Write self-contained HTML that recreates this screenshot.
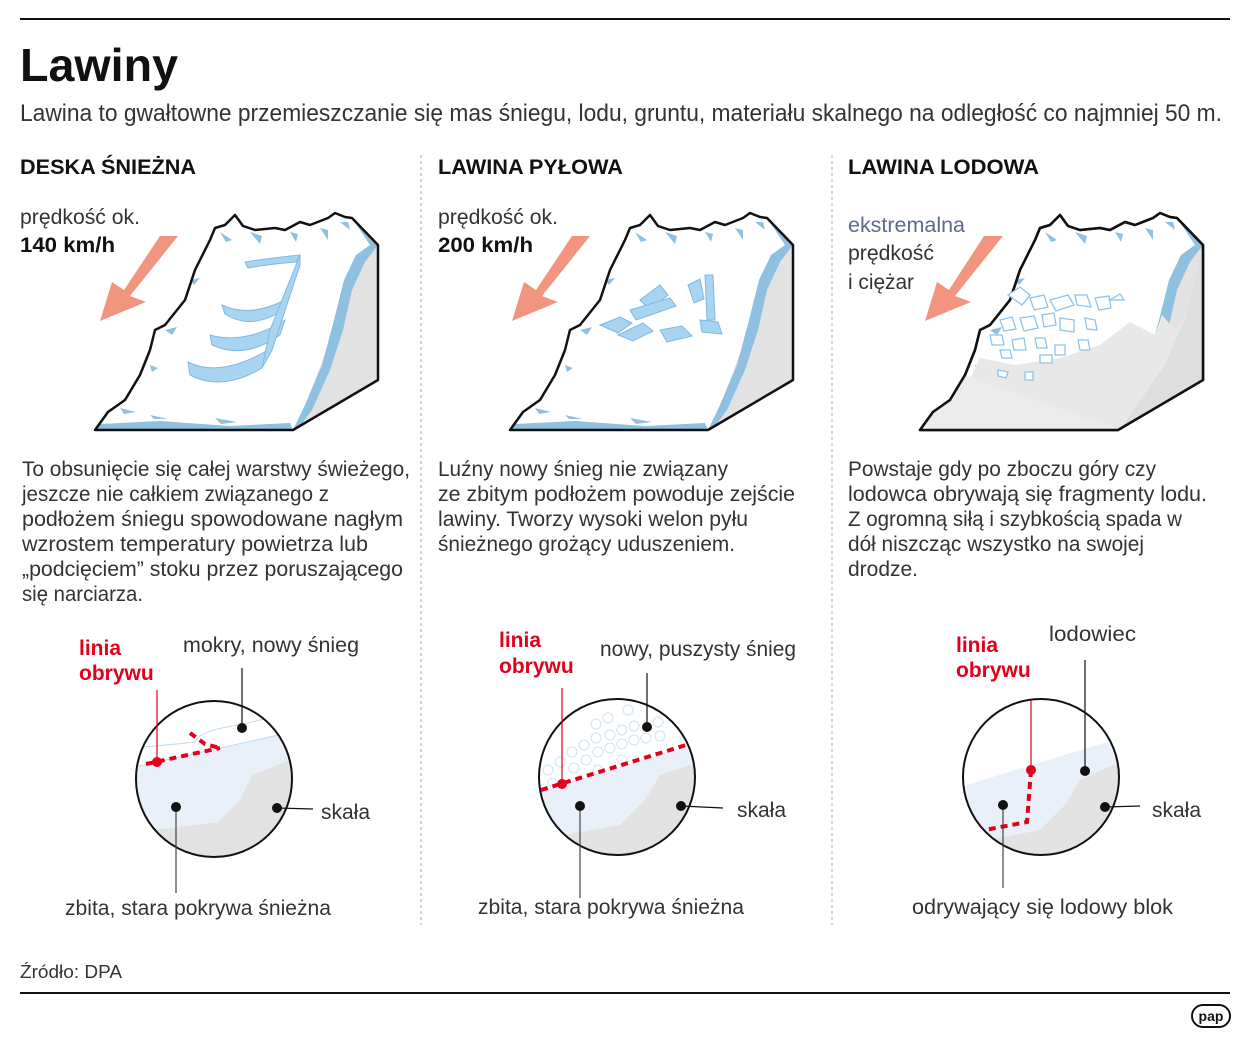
<!DOCTYPE html>
<html><head><meta charset="utf-8">
<style>
html,body{margin:0;padding:0;background:#fff;}
svg{display:block;}
text{font-family:"Liberation Sans",sans-serif;fill:#333;}
.b{font-weight:bold;fill:#111;}
.r{font-weight:bold;fill:#e2001a;}
</style></head><body>
<svg width="1250" height="1042" viewBox="0 0 1250 1042" xmlns="http://www.w3.org/2000/svg">
<defs>
<clipPath id="c1"><circle cx="214" cy="779" r="78"/></clipPath>
<clipPath id="c2"><circle cx="617" cy="777" r="78"/></clipPath>
<clipPath id="c3"><circle cx="1041" cy="777" r="78"/></clipPath>
<g id="mtn">
  <path d="M95,430 L108,412 L125,400 L140,375 L150,350 L155,330 L165,325 L185,300 L195,270 L205,250 L210,240 L215,228 L225,225 L235,215 L243,226 L255,230 L275,228 L285,230 L300,222 L310,225 L328,218 L335,213 L345,217 L352,218 L378,245 L378,380 L293,430 Z" fill="#fff"/>
  <path d="M378,245 L378,380 L293,430 L300,418 L315,380 L330,340 L340,300 L350,270 L365,250 Z" fill="#e2e2e2"/>
  <path d="M352,218 L378,245 L365,262 L352,290 L343,330 L330,370 L312,410 L300,426 L293,430 L305,405 L322,365 L334,320 L344,280 L356,255 L370,245 Z" fill="#8fc0e0"/>
  <path d="M95,430 L293,430 L290,423 L230,426 L160,421 L100,424 Z" fill="#8fc0e0"/>
  <path d="M220,232 l12,8 l-6,2 Z M250,232 l10,12 l2,-8 Z M290,232 l6,10 l2,-8Z M320,228 l8,12 l0,-10Z M340,222 l10,8 l-2,-8Z M165,330 l12,-3 l-5,8Z M190,280 l10,-2 l-6,7Z M150,365 l8,3 l-6,4Z M120,408 l16,4 l-12,2Z M150,415 l18,4 l-14,0Z M215,418 l22,4 l-16,2Z" fill="#8fc0e0"/>
  <path d="M95,430 L108,412 L125,400 L140,375 L150,350 L155,330 L165,325 L185,300 L195,270 L205,250 L210,240 L215,228 L225,225 L235,215 L243,226 L255,230 L275,228 L285,230 L300,222 L310,225 L328,218 L335,213 L345,217 L352,218 L378,245 L378,380 L293,430 Z" fill="none" stroke="#111" stroke-width="2.5" stroke-linejoin="round"/>
</g>
</defs>

<line x1="20" y1="19" x2="1230" y2="19" stroke="#111" stroke-width="2"/>
<text x="20" y="81" class="b" font-size="46" textLength="158" lengthAdjust="spacingAndGlyphs">Lawiny</text>
<text x="20" y="121" font-size="24" textLength="1202" lengthAdjust="spacingAndGlyphs">Lawina to gwałtowne przemieszczanie się mas śniegu, lodu, gruntu, materiału skalnego na odległość co najmniej 50 m.</text>

<text x="20" y="174" class="b" font-size="21" textLength="176" lengthAdjust="spacingAndGlyphs">DESKA ŚNIEŻNA</text>
<text x="438" y="174" class="b" font-size="21" textLength="185" lengthAdjust="spacingAndGlyphs">LAWINA PYŁOWA</text>
<text x="848" y="174" class="b" font-size="21" textLength="191" lengthAdjust="spacingAndGlyphs">LAWINA LODOWA</text>

<line x1="421" y1="155" x2="421" y2="925" stroke="#aaa" stroke-width="1" stroke-dasharray="3,3"/>
<line x1="832" y1="155" x2="832" y2="925" stroke="#aaa" stroke-width="1" stroke-dasharray="3,3"/>

<!-- speeds -->
<text x="20" y="224" font-size="21" textLength="120" lengthAdjust="spacingAndGlyphs">prędkość ok.</text>
<text x="20" y="252" class="b" font-size="21" textLength="95" lengthAdjust="spacingAndGlyphs">140 km/h</text>
<text x="438" y="224" font-size="21" textLength="120" lengthAdjust="spacingAndGlyphs">prędkość ok.</text>
<text x="438" y="252" class="b" font-size="21" textLength="95" lengthAdjust="spacingAndGlyphs">200 km/h</text>
<text x="848" y="232" font-size="21" style="fill:#5d6a8e" textLength="117" lengthAdjust="spacingAndGlyphs">ekstremalna</text>
<text x="848" y="260" font-size="21" textLength="86" lengthAdjust="spacingAndGlyphs">prędkość</text>
<text x="848" y="289" font-size="21" textLength="66" lengthAdjust="spacingAndGlyphs">i ciężar</text>

<!-- arrows -->
<g fill="#f29580">
 <polygon points="160,236 178,236 130,296 146,302 100,321 112,282 124,290"/>
 <polygon points="572,236 590,236 542,296 558,302 512,321 524,282 536,290"/>
 <polygon points="984,236 1003,236 955,296 971,302 925,321 937,282 949,290"/>
</g>

<!-- mountains -->
<use href="#mtn"/>
<g fill="#a8d4f2" stroke="#7fb9e0" stroke-width="1">
 <path d="M245,262 Q270,258 300,255 L296,262 Q270,264 248,268 Z"/>
 <path d="M222,305 Q250,318 285,300 L280,312 Q250,330 225,314 Z"/>
 <path d="M210,335 Q245,345 285,320 L280,335 Q245,360 212,345 Z"/>
 <path d="M188,362 Q220,378 268,350 L262,368 Q222,392 190,375 Z"/>
 <path d="M300,255 L270,330 L262,368 L272,350 L300,265 Z"/>
</g>
<use href="#mtn" x="415"/>
<g fill="#a8d4f2" stroke="#7fb9e0" stroke-width="1">
 <path d="M600,325 l20,-8 l12,6 l-14,10 Z"/>
 <path d="M618,335 l25,-12 l10,8 l-20,10 Z"/>
 <path d="M640,300 l20,-15 l8,10 l-18,15 Z"/>
 <path d="M660,330 l22,-4 l10,10 l-25,6 Z"/>
 <path d="M700,320 l18,2 l4,12 l-20,-2 Z"/>
 <path d="M705,275 l8,0 l2,45 l-8,0 Z"/>
 <path d="M630,310 l40,-12 l6,8 l-40,14 Z"/>
 <path d="M688,285 l12,-6 l4,20 l-10,4 Z"/>
</g>
<use href="#mtn" x="825"/>
<path d="M945,412 L960,400 L980,358 L1015,365 L1060,358 L1100,345 L1130,322 L1155,335 L1162,315 L1175,330 L1188,312 L1165,365 L1120,430 L920,430 Z" fill="#e8e8e8"/>
<path d="M920,430 L933,412 L950,400 L965,375 L1120,430 Z" fill="#ececec"/>
<path d="M1120,430 L1203,380 L1203,245 L1188,312 L1165,365 Z" fill="#dedede"/>
<path d="M920,430 L933,412 L950,400 L965,375 L975,350 L980,330 L990,325 L1010,300 L1020,270 L1030,250 L1035,240 L1040,228 L1050,225 L1060,215 L1068,226 L1080,230 L1100,228 L1110,230 L1125,222 L1135,225 L1153,218 L1160,213 L1170,217 L1177,218 L1203,245 L1203,380 L1118,430 Z" fill="none" stroke="#111" stroke-width="2.5" stroke-linejoin="round"/>
<g fill="#fff" stroke="#8cc4ec" stroke-width="1.3">
 <path d="M1008,295 l12,-8 l10,8 l-8,10 Z"/><path d="M1030,298 l14,-3 l4,12 l-14,3 Z"/>
 <path d="M1050,300 l18,-5 l6,10 l-18,6 Z"/><path d="M1075,295 l12,0 l4,12 l-14,-2 Z"/>
 <path d="M1095,298 l14,-2 l2,12 l-12,2 Z"/><path d="M1000,320 l12,-3 l4,12 l-12,2 Z"/>
 <path d="M1020,318 l14,-2 l4,12 l-14,3 Z"/><path d="M1042,315 l12,-2 l2,12 l-12,2 Z"/>
 <path d="M1060,318 l14,2 l0,12 l-14,-2 Z"/><path d="M1085,318 l10,2 l2,10 l-10,-1 Z"/>
 <path d="M990,335 l12,0 l2,10 l-12,0 Z"/><path d="M1012,340 l12,-2 l2,12 l-12,0 Z"/>
 <path d="M1035,338 l10,0 l2,10 l-10,0 Z"/><path d="M1055,345 l10,0 l0,10 l-10,0 Z"/>
 <path d="M1078,340 l10,0 l2,10 l-10,0 Z"/><path d="M1000,350 l10,0 l2,8 l-10,0 Z"/>
 <path d="M1040,355 l12,0 l0,8 l-12,0 Z"/><path d="M998,370 l10,2 l-2,6 l-8,-2 Z"/>
 <path d="M1025,372 l8,0 l0,8 l-8,0 Z"/><path d="M1110,300 l10,-6 l4,6 Z"/>
</g>

<!-- body text -->
<g font-size="21">
<text x="22" y="476" textLength="388" lengthAdjust="spacingAndGlyphs">To obsunięcie się całej warstwy świeżego,</text>
<text x="22" y="501" textLength="307" lengthAdjust="spacingAndGlyphs">jeszcze nie całkiem związanego z</text>
<text x="22" y="526" textLength="381" lengthAdjust="spacingAndGlyphs">podłożem śniegu spowodowane nagłym</text>
<text x="22" y="551" textLength="346" lengthAdjust="spacingAndGlyphs">wzrostem temperatury powietrza lub</text>
<text x="22" y="576" textLength="381" lengthAdjust="spacingAndGlyphs">„podcięciem” stoku przez poruszającego</text>
<text x="22" y="601" textLength="121" lengthAdjust="spacingAndGlyphs">się narciarza.</text>
<text x="438" y="476" textLength="290" lengthAdjust="spacingAndGlyphs">Luźny nowy śnieg nie związany</text>
<text x="438" y="501" textLength="357" lengthAdjust="spacingAndGlyphs">ze zbitym podłożem powoduje zejście</text>
<text x="438" y="526" textLength="310" lengthAdjust="spacingAndGlyphs">lawiny. Tworzy wysoki welon pyłu</text>
<text x="438" y="551" textLength="297" lengthAdjust="spacingAndGlyphs">śnieżnego grożący uduszeniem.</text>
<text x="848" y="476" textLength="308" lengthAdjust="spacingAndGlyphs">Powstaje gdy po zboczu góry czy</text>
<text x="848" y="501" textLength="359" lengthAdjust="spacingAndGlyphs">lodowca obrywają się fragmenty lodu.</text>
<text x="848" y="526" textLength="334" lengthAdjust="spacingAndGlyphs">Z ogromną siłą i szybkością spada w</text>
<text x="848" y="551" textLength="296" lengthAdjust="spacingAndGlyphs">dół niszcząc wszystko na swojej</text>
<text x="848" y="576" textLength="70" lengthAdjust="spacingAndGlyphs">drodze.</text>
</g>

<!-- circle 1 -->
<g clip-path="url(#c1)">
 <rect x="130" y="695" width="170" height="170" fill="#fff"/>
 <path d="M130,768 L292,732 L300,870 L130,870 Z" fill="#e9f0fa"/>
 <path d="M130,768 L292,732" stroke="#bcdaf2" stroke-width="1" fill="none"/>
 <path d="M130,748 Q170,745 195,742 Q200,730 240,725 L300,710" stroke="#bcdaf2" stroke-width="1" fill="none"/>
 <path d="M130,833 L218,822 L240,800 L252,775 L300,756 L300,870 L130,870 Z" fill="#e2e2e2"/>
</g>
<circle cx="214" cy="779" r="78" fill="none" stroke="#111" stroke-width="2"/>
<path d="M146,764 L220,748 M190,733 L205,744 L220,748" stroke="#e2001a" stroke-width="4" stroke-dasharray="7,5" fill="none"/>
<line x1="157" y1="690" x2="157" y2="762" stroke="#e2001a" stroke-width="1.2"/>
<circle cx="157" cy="762" r="5" fill="#e2001a"/>
<line x1="242" y1="668" x2="242" y2="728" stroke="#111" stroke-width="1.2"/>
<line x1="176" y1="807" x2="176" y2="893" stroke="#444" stroke-width="1.2"/>
<line x1="277" y1="808" x2="313" y2="809" stroke="#111" stroke-width="1.2"/>
<circle cx="242" cy="728" r="5" fill="#111"/><circle cx="176" cy="807" r="5" fill="#111"/><circle cx="277" cy="808" r="5" fill="#111"/>

<!-- circle 2 -->
<g clip-path="url(#c2)">
 <rect x="535" y="695" width="170" height="170" fill="#fff"/>
 <path d="M535,792 L697,744 L700,870 L535,870 Z" fill="#e9f0fa"/>
 <path d="M535,840 L620,825 L645,800 L660,775 L700,762 L700,870 L535,870 Z" fill="#e2e2e2"/>
 <g fill="none" stroke="#cce3f5" stroke-width="1">
  <circle cx="548" cy="770" r="5"/><circle cx="560" cy="762" r="5"/><circle cx="572" cy="752" r="5"/><circle cx="584" cy="745" r="5"/><circle cx="596" cy="738" r="5"/><circle cx="610" cy="735" r="5"/><circle cx="622" cy="730" r="5"/><circle cx="634" cy="726" r="5"/><circle cx="658" cy="722" r="5"/>
  <circle cx="574" cy="768" r="5"/><circle cx="586" cy="760" r="5"/><circle cx="598" cy="752" r="5"/><circle cx="610" cy="748" r="5"/><circle cx="622" cy="744" r="5"/><circle cx="634" cy="740" r="5"/><circle cx="646" cy="738" r="5"/><circle cx="660" cy="736" r="5"/>
  <circle cx="596" cy="724" r="5"/><circle cx="608" cy="718" r="5"/><circle cx="628" cy="710" r="5"/><circle cx="552" cy="782" r="4"/><circle cx="598" cy="770" r="5"/><circle cx="622" cy="760" r="5"/>
 </g>
</g>
<circle cx="617" cy="777" r="78" fill="none" stroke="#111" stroke-width="2"/>
<path d="M541,790 L686,745" stroke="#e2001a" stroke-width="4" stroke-dasharray="7,5" fill="none"/>
<line x1="562" y1="688" x2="562" y2="784" stroke="#e2001a" stroke-width="1.2"/>
<circle cx="562" cy="784" r="5" fill="#e2001a"/>
<line x1="647" y1="673" x2="647" y2="727" stroke="#111" stroke-width="1.2"/>
<line x1="580" y1="806" x2="580" y2="898" stroke="#444" stroke-width="1.2"/>
<line x1="681" y1="806" x2="723" y2="808" stroke="#111" stroke-width="1.2"/>
<circle cx="647" cy="727" r="5" fill="#111"/><circle cx="580" cy="806" r="5" fill="#111"/><circle cx="681" cy="806" r="5" fill="#111"/>

<!-- circle 3 -->
<g clip-path="url(#c3)">
 <rect x="960" y="695" width="170" height="170" fill="#fff"/>
 <path d="M960,787 L1120,738 L1125,870 L960,870 Z" fill="#e9f0fa"/>
 <path d="M960,845 L1040,830 L1065,805 L1080,780 L1125,760 L1125,870 L960,870 Z" fill="#e2e2e2"/>
</g>
<circle cx="1041" cy="777" r="78" fill="none" stroke="#111" stroke-width="2"/>
<path d="M1031,770 L1027,822 L985,830" stroke="#e2001a" stroke-width="4" stroke-dasharray="7,5" fill="none"/>
<line x1="1031" y1="700" x2="1031" y2="770" stroke="#e2001a" stroke-width="1.2"/>
<circle cx="1031" cy="770" r="5" fill="#e2001a"/>
<line x1="1085" y1="660" x2="1085" y2="771" stroke="#111" stroke-width="1.2"/>
<line x1="1003" y1="805" x2="1003" y2="888" stroke="#444" stroke-width="1.2"/>
<line x1="1105" y1="807" x2="1140" y2="806" stroke="#111" stroke-width="1.2"/>
<circle cx="1085" cy="771" r="5" fill="#111"/><circle cx="1003" cy="805" r="5" fill="#111"/><circle cx="1105" cy="807" r="5" fill="#111"/>

<!-- circle labels -->
<g font-size="21">
<text x="79" y="655" class="r">linia</text><text x="79" y="680" class="r">obrywu</text>
<text x="183" y="652" textLength="176" lengthAdjust="spacingAndGlyphs">mokry, nowy śnieg</text>
<text x="321" y="819">skała</text>
<text x="65" y="915" textLength="266" lengthAdjust="spacingAndGlyphs">zbita, stara pokrywa śnieżna</text>
<text x="499" y="647" class="r">linia</text><text x="499" y="673" class="r">obrywu</text>
<text x="600" y="656" textLength="196" lengthAdjust="spacingAndGlyphs">nowy, puszysty śnieg</text>
<text x="737" y="817">skała</text>
<text x="478" y="914" textLength="266" lengthAdjust="spacingAndGlyphs">zbita, stara pokrywa śnieżna</text>
<text x="956" y="652" class="r">linia</text><text x="956" y="677" class="r">obrywu</text>
<text x="1049" y="641" textLength="87" lengthAdjust="spacingAndGlyphs">lodowiec</text>
<text x="1152" y="817">skała</text>
<text x="912" y="914" textLength="261" lengthAdjust="spacingAndGlyphs">odrywający się lodowy blok</text>
</g>

<text x="20" y="978" font-size="18" textLength="102" lengthAdjust="spacingAndGlyphs">Źródło: DPA</text>
<line x1="20" y1="993" x2="1230" y2="993" stroke="#111" stroke-width="2"/>
<rect x="1192" y="1005" width="38" height="22" rx="11" fill="#fff" stroke="#111" stroke-width="2"/>
<text x="1211" y="1021" font-size="14" text-anchor="middle" class="b">pap</text>
</svg>
</body></html>
